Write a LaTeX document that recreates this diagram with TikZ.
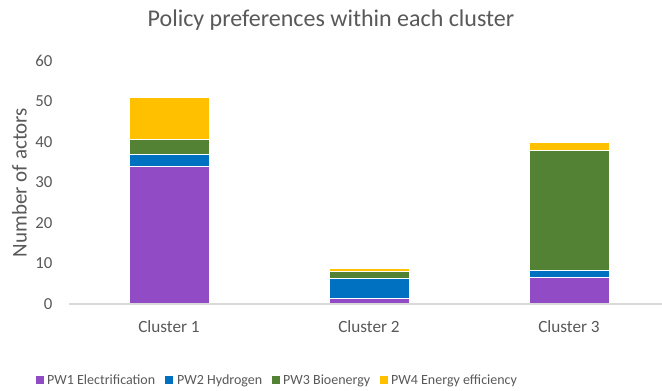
\documentclass[tikz,border=0pt]{standalone}
\usepackage{fontspec}
\setmainfont{Carlito}
\definecolor{txtgray}{HTML}{595959}
\definecolor{axisgray}{HTML}{D9D9D9}
\definecolor{pwpurple}{HTML}{914CC5}
\definecolor{pwblue}{HTML}{0070C0}
\definecolor{pwgreen}{HTML}{548235}
\definecolor{pwyellow}{HTML}{FFC000}
\begin{document}
\begin{tikzpicture}[x=1pt,y=1pt,
  charttitle/.style={text=txtgray,font=\fontsize{24}{28}\selectfont,inner sep=0pt},
  ticklab/.style={text=txtgray,font=\fontsize{16.8}{19}\selectfont,inner sep=0pt,anchor=base east},
  catlab/.style={text=txtgray,font=\fontsize{17.2}{20}\selectfont,inner sep=0pt,anchor=base},
  axtitle/.style={text=txtgray,font=\fontsize{21}{24}\selectfont,inner sep=0pt,rotate=90},
  legtext/.style={text=txtgray,font=\fontsize{14}{17}\selectfont,inner sep=0pt,anchor=base west},
  axisline/.style={draw=axisgray,line width=1.2pt},
  seg/.style={draw=white,line width=0.3pt}]
\useasboundingbox (0,0) rectangle (662,391);
\fill[white] (0,0) rectangle (662,391);

% value-to-height: zero line at 87, 4.05 per actor
\def\zeroy{87}
\def\unit{4.05}

% chart title
\node[charttitle,anchor=base] (title) at (331,364) {Policy preferences within each cluster};

% stacked bars: centre x, then cumulative tops of PW1..PW4
\foreach \cx/\a/\b/\c/\d in {169/34/37/40.8/51, 369/1.4/6.5/8/8.8, 569/6.6/8.3/38/40}{
  \fill[pwpurple,seg] (\cx-40,\zeroy) rectangle (\cx+40,\zeroy+\a*\unit);
  \fill[pwblue,seg]   (\cx-40,\zeroy+\a*\unit) rectangle (\cx+40,\zeroy+\b*\unit);
  \fill[pwgreen,seg]  (\cx-40,\zeroy+\b*\unit) rectangle (\cx+40,\zeroy+\c*\unit);
  \fill[pwyellow,seg] (\cx-40,\zeroy+\c*\unit) rectangle (\cx+40,\zeroy+\d*\unit);
}

% horizontal axis
\coordinate (axl) at (69,\zeroy);
\coordinate (axr) at (662,\zeroy);
\draw[axisline] (axl) -- (axr);

% value labels
\foreach \v in {0,10,...,60}{
  \node[ticklab] (tick\v) at (52.5,\zeroy+\v*\unit-5.4) {\v};
}

% category labels
\node[catlab] (cat1) at (169,58) {Cluster 1};
\node[catlab] (cat2) at (369,58) {Cluster 2};
\node[catlab] (cat3) at (569,58) {Cluster 3};

% axis title
\node[axtitle] (ytitle) at (19.4,208.5) {Number of actors};

% legend
\foreach \sx/\tx/\col/\lab/\nm in {36/47/pwpurple/PW1 Electrification/l1,
                                   165/177/pwblue/PW2 Hydrogen/l2,
                                   272/283/pwgreen/PW3 Bioenergy/l3,
                                   380/391/pwyellow/PW4 Energy efficiency/l4}{
  \fill[\col] (\sx,6.7) rectangle ++(8,8.6);
  \node[legtext] (\nm) at (\tx,6.7) {\lab};
}
\end{tikzpicture}
\end{document}
